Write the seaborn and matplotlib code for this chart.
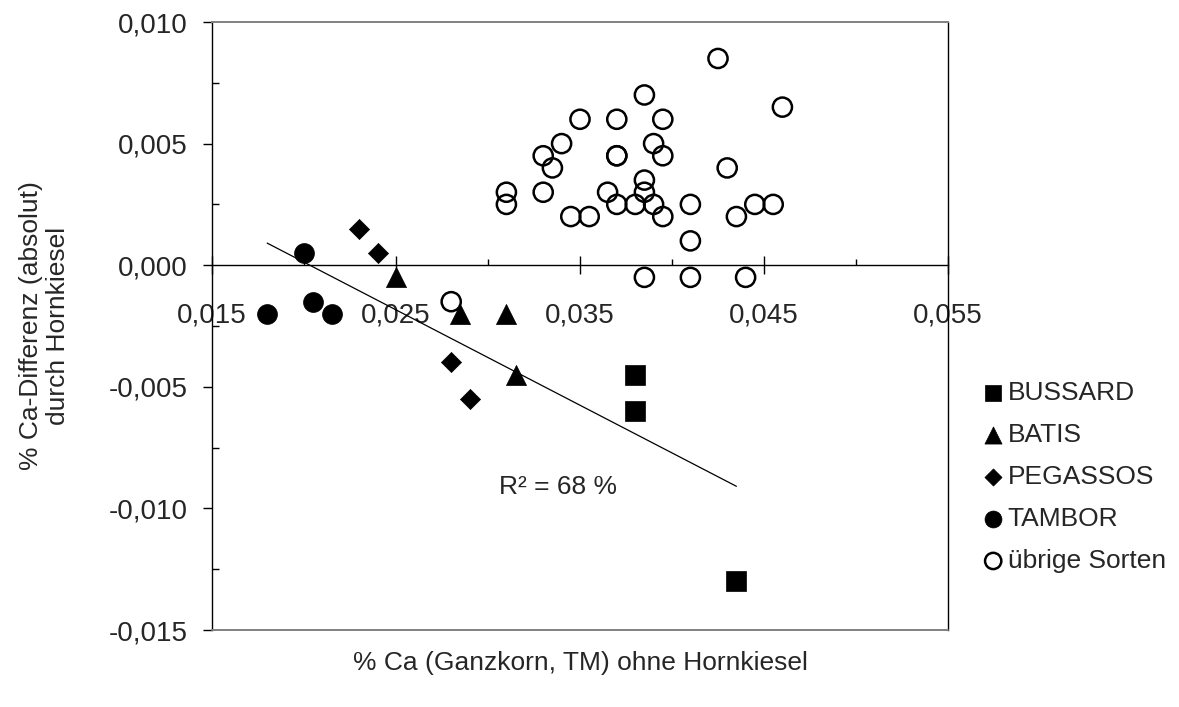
import matplotlib
matplotlib.use("Agg")
import matplotlib.pyplot as plt
import numpy as np
import pandas as pd
import seaborn as sns
from matplotlib.ticker import FixedLocator, FuncFormatter

# --- data ---
bussard_x = [0.038, 0.038, 0.0435]
bussard_y = [-0.0045, -0.006, -0.013]

batis_x = [0.025, 0.0285, 0.031, 0.0315]
batis_y = [-0.0005, -0.002, -0.002, -0.0045]

pegassos_x = [0.023, 0.024, 0.028, 0.029]
pegassos_y = [0.0015, 0.0005, -0.004, -0.0055]

tambor_x = [0.020, 0.018, 0.0205, 0.0215]
tambor_y = [0.0005, -0.002, -0.0015, -0.002]

uebrige_x = [0.0425, 0.0385, 0.046, 0.035, 0.037, 0.0395, 0.034, 0.039,
             0.033, 0.037, 0.037, 0.0395, 0.0335, 0.043, 0.0385, 0.031,
             0.033, 0.0365, 0.0385, 0.031, 0.037, 0.038, 0.039, 0.041,
             0.0445, 0.0455, 0.0345, 0.0355, 0.0395, 0.0435, 0.041,
             0.0385, 0.041, 0.044, 0.028]
uebrige_y = [0.0085, 0.007, 0.0065, 0.006, 0.006, 0.006, 0.005, 0.005,
             0.0045, 0.0045, 0.0045, 0.0045, 0.004, 0.004, 0.0035, 0.003,
             0.003, 0.003, 0.003, 0.0025, 0.0025, 0.0025, 0.0025, 0.0025,
             0.0025, 0.0025, 0.002, 0.002, 0.002, 0.002, 0.001,
             -0.0005, -0.0005, -0.0005, -0.0015]

x_major = [0.015, 0.025, 0.035, 0.045, 0.055]
x_minor = [0.020, 0.030, 0.040, 0.050]
y_major = [-0.015, -0.010, -0.005, 0.0, 0.005, 0.010]
y_minor = [-0.0125, -0.0075, -0.0025, 0.0025, 0.0075]

groups = [
    ("BUSSARD", bussard_x, bussard_y, "s", 205),
    ("BATIS", batis_x, batis_y, "^", 210),
    ("PEGASSOS", pegassos_x, pegassos_y, "D", 105),
    ("TAMBOR", tambor_x, tambor_y, "o", 205),
]

sns.set_theme(style="white")
plt.rcParams["font.family"] = ["Liberation Sans", "DejaVu Sans"]
FS = 19
TICK_FS = 20

fig = plt.figure(figsize=(11.79, 7.07), dpi=100)
ax = fig.add_axes([212 / 1179, 1 - 630 / 707, (948 - 212) / 1179, (630 - 22) / 707])

for name, xs, ys, mk, size in groups:
    sns.scatterplot(x=xs, y=ys, marker=mk, s=size, color="black",
                    edgecolor="black", linewidth=0.5, label=name, ax=ax, zorder=3)

sns.scatterplot(x=uebrige_x, y=uebrige_y, marker="o", s=190, facecolor="none",
                edgecolor="black", linewidth=1.8, label="übrige Sorten", ax=ax, zorder=3)

# regression over the four named varieties
named = pd.DataFrame({
    "x": bussard_x + batis_x + pegassos_x + tambor_x,
    "y": bussard_y + batis_y + pegassos_y + tambor_y,
})
sns.regplot(data=named, x="x", y="y", scatter=False, ci=None, truncate=True,
            line_kws=dict(color="black", lw=0.9), ax=ax)
ax.text(0.47, 0.235, "R² = 68 %", transform=ax.transAxes, ha="center",
        va="center", fontsize=FS)

ax.set_xlim(0.015, 0.055)
ax.set_ylim(-0.015, 0.010)

# spines: horizontal axis crossing at zero
ax.spines["bottom"].set_position(("data", 0))
ax.spines["bottom"].set_color("black")
ax.spines["bottom"].set_linewidth(1.0)
ax.spines["left"].set_color("black")
ax.spines["left"].set_linewidth(1.0)
ax.spines["right"].set_color("black")
ax.spines["right"].set_linewidth(1.0)
ax.spines["top"].set_color("#808080")
ax.spines["top"].set_linewidth(1.4)
ax.plot([0, 1], [0, 0], transform=ax.transAxes, color="#808080", lw=1.4,
        clip_on=False, zorder=5)

fmt = FuncFormatter(lambda v, p: f"{v:.3f}".replace(".", ",").replace("−", "-"))
ax.xaxis.set_major_locator(FixedLocator(x_major))
ax.xaxis.set_minor_locator(FixedLocator(x_minor))
ax.yaxis.set_major_locator(FixedLocator(y_major))
ax.yaxis.set_minor_locator(FixedLocator(y_minor))
ax.xaxis.set_major_formatter(fmt)
ax.yaxis.set_major_formatter(fmt)

ax.tick_params(axis="x", which="major", direction="inout", length=13, width=1,
               color="black", pad=20, labelsize=TICK_FS, bottom=True)
ax.tick_params(axis="x", which="minor", direction="in", length=4.5, width=1,
               color="black", bottom=True)
ax.tick_params(axis="y", which="major", direction="out", length=6.5, width=1,
               color="black", pad=11, labelsize=TICK_FS, left=True)
ax.tick_params(axis="y", which="minor", direction="in", length=5, width=1,
               color="black", left=True)

ax.set_xlabel("% Ca (Ganzkorn, TM) ohne Hornkiesel", fontsize=FS)
ax.set_ylabel("% Ca-Differenz (absolut)\ndurch Hornkiesel", fontsize=FS,
              linespacing=1.15)
ax.xaxis.set_label_coords(0.5, -0.035)
ax.yaxis.set_label_coords(-0.193, 0.5)

handles, labels = ax.get_legend_handles_labels()
leg = ax.legend(handles, labels, loc="center left",
                bbox_to_anchor=(980 / 1179, 1 - 477 / 707),
                bbox_transform=fig.transFigure, frameon=False, fontsize=FS,
                handletextpad=0.05, labelspacing=0.68, markerscale=0.85,
                handlelength=1.0, borderaxespad=0, borderpad=0)

fig.savefig("out.png", dpi=100, facecolor="white")
